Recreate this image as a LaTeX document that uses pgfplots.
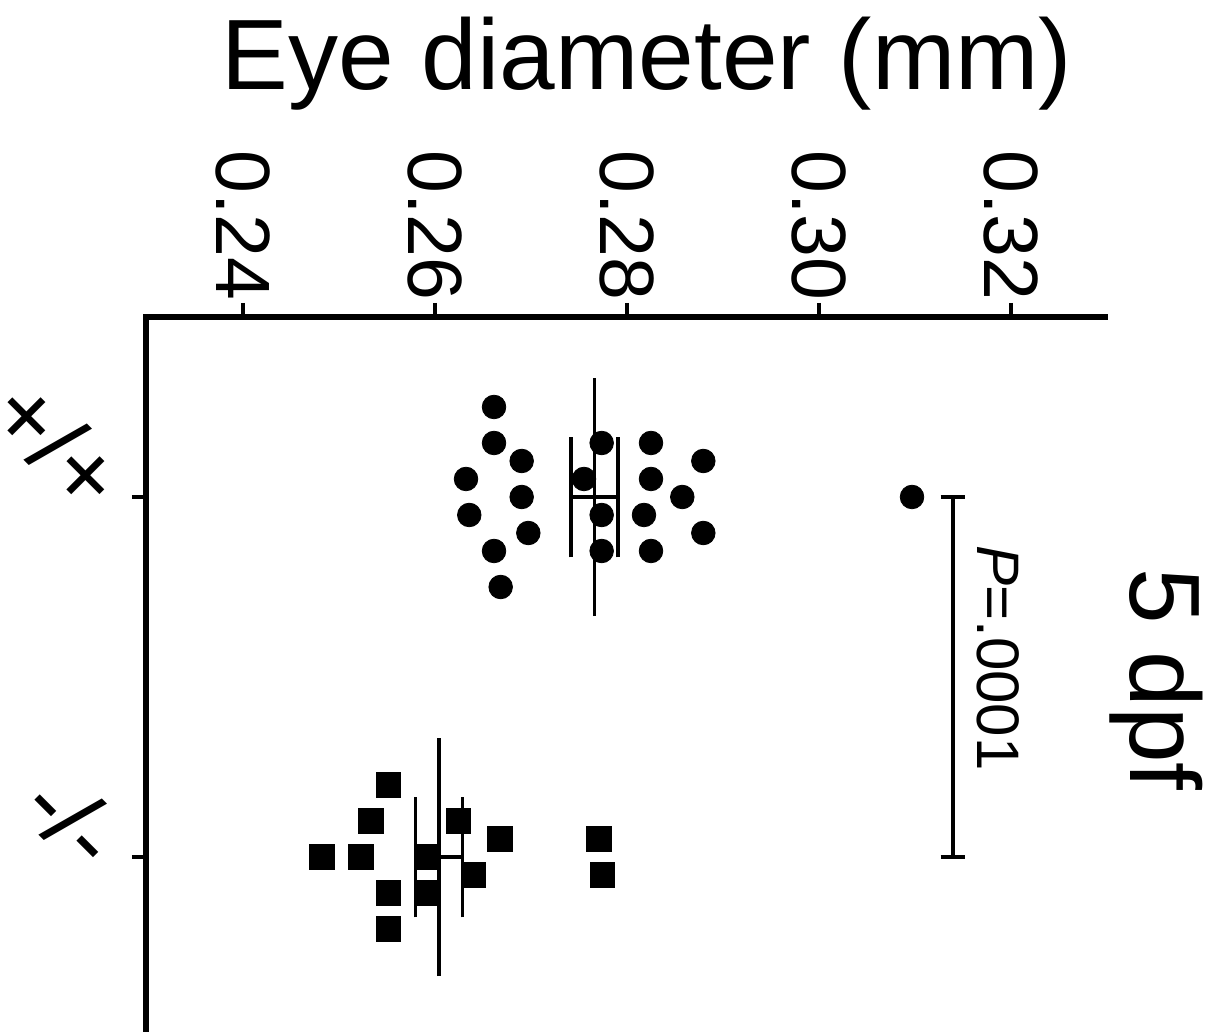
\documentclass[border=0pt]{standalone}
\usepackage{fontspec}
\setmainfont{Liberation Sans}
\usepackage{pgfplots}
\pgfplotsset{compat=1.18}

\begin{document}
\begin{tikzpicture}
\begin{axis}[
  scale only axis,
  width=479.5pt, height=360pt,
  xmin=0.229896, xmax=0.329792,
  ymin=-0.5, ymax=1.5,
  axis x line=top, axis y line=left,
  axis line style={-, line width=2.8pt, line cap=rect},
  tick align=outside,
  major tick length=7pt,
  every tick/.style={black, line width=2.4pt},
  xtick={0.24,0.26,0.28,0.30,0.32},
  xticklabels={0.24,0.26,0.28,0.30,0.32},
  xticklabel style={rotate=-90, anchor=east, inner sep=1pt,
    font=\fontsize{38.5}{40}\selectfont},
  ytick={0,1}, yticklabels={},
  clip=false,
]
  % wild type (+/+), 5 dpf
  \addplot[only marks, mark=*, mark size=5.9pt, mark options={draw=none, fill=black}]
    coordinates {
      (0.26615,1.25) (0.26615,1.15) (0.26903,1.10) (0.26323,1.05)
      (0.26903,1.00) (0.26357,0.95) (0.26972,0.90) (0.26615,0.85)
      (0.26684,0.75)
      (0.27736,1.15) (0.27552,1.05) (0.27736,0.95) (0.27736,0.85)
      (0.28250,1.15) (0.28250,1.05) (0.28177,0.95) (0.28250,0.85)
      (0.28795,1.10) (0.28576,1.00) (0.28795,0.90)
      (0.30969,1.00)
    };
  % mutant (-/-), 5 dpf
  \addplot[only marks, mark=square*, mark size=6.2pt, mark options={draw=none, fill=black}]
    coordinates {
      (0.25514,0.20)
      (0.25336,0.10) (0.26243,0.10)
      (0.26680,0.05) (0.27705,0.05)
      (0.24826,0.00) (0.25232,0.00) (0.25920,0.00)
      (0.26399,-0.05) (0.27743,-0.05)
      (0.25514,-0.10) (0.25920,-0.10)
      (0.25514,-0.20)
    };

  % mean lines and SEM bars
  \addplot[black, line width=1.7pt] coordinates {(0.2766,0.669) (0.2766,1.331)};
  \addplot[black, line width=1.7pt] coordinates {(0.27415,1) (0.27905,1)};
  \addplot[black, line width=1.7pt] coordinates {(0.27415,0.8325) (0.27415,1.1675)};
  \addplot[black, line width=1.7pt] coordinates {(0.27905,0.8325) (0.27905,1.1675)};

  \addplot[black, line width=1.7pt] coordinates {(0.260417,-0.331) (0.260417,0.331)};
  \addplot[black, line width=1.7pt] coordinates {(0.257967,0) (0.262867,0)};
  \addplot[black, line width=1.7pt] coordinates {(0.257967,-0.168) (0.257967,0.168)};
  \addplot[black, line width=1.7pt] coordinates {(0.262867,-0.168) (0.262867,0.168)};

  % significance bracket
  \addplot[black, line width=2.1pt] coordinates {(0.313958,0) (0.313958,1)};
  \addplot[black, line width=2.1pt] coordinates {(0.312658,1) (0.315258,1)};
  \addplot[black, line width=2.1pt] coordinates {(0.312658,0) (0.315258,0)};

  \node[rotate=-90, anchor=center, inner sep=0pt, font=\fontsize{30}{32}\selectfont]
    at (axis cs:0.318698,0.55278) {\textit{P}=.0001};

  % genotype labels
  \node[rotate=-45, anchor=center, inner sep=0pt, font=\fontsize{48}{50}\selectfont]
    at (axis cs:0.220729,1.14583) {+/+};
  \node[rotate=-45, anchor=center, inner sep=0pt, font=\fontsize{48}{50}\selectfont]
    at (axis cs:0.222323,0.10278) {-/-};

  % axis title and stage
  \node[anchor=base, inner sep=0pt, font=\fontsize{50}{52}\selectfont]
    at (axis cs:0.282083,2.13056) {Eye diameter (mm)};
  \node[rotate=-90, anchor=base west, inner sep=0pt, font=\fontsize{50}{52}\selectfont]
    at (axis cs:0.332396,0.80278) {5 dpf};

  \coordinate (tl) at (rel axis cs:0,1);
\end{axis}
\pgfresetboundingbox
\path[use as bounding box] ([shift={(-73pt,158.5pt)}]tl) rectangle ([shift={(534.5pt,-357.5pt)}]tl);
\end{tikzpicture}
\end{document}
